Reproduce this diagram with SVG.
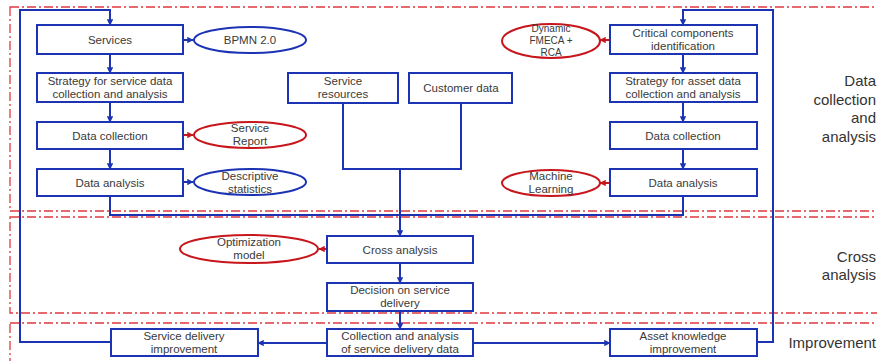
<svg xmlns="http://www.w3.org/2000/svg" width="877" height="361" viewBox="0 0 877 361">
<style>
.reg{fill:none;stroke:#e0393e;stroke-width:1.3;stroke-dasharray:9 3 2 3}
.box{fill:#fff;stroke:#1c34b4;stroke-width:2}
.eb{fill:#fff;stroke:#1c34b4;stroke-width:2}
.er{fill:#fff;stroke:#c8161d;stroke-width:2}
.c{fill:none;stroke:#1c34b4;stroke-width:2}
.cr{fill:none;stroke:#c8161d;stroke-width:2}
text{font-family:"Liberation Sans",Arial,sans-serif;font-size:11.5px;fill:#3a3a3a;text-anchor:middle}
.lab{font-size:15px;text-anchor:end;fill:#333}
.sm{font-size:10px}
</style>
<defs>
<marker id="ab" viewBox="0 0 10 10" refX="9" refY="5" markerWidth="3.2" markerHeight="3.2" orient="auto" markerUnits="strokeWidth"><path d="M0,0L10,5L0,10z" fill="#1c34b4"/></marker>
<marker id="ar" viewBox="0 0 10 10" refX="9" refY="5" markerWidth="3.2" markerHeight="3.2" orient="auto" markerUnits="strokeWidth"><path d="M0,0L10,5L0,10z" fill="#c8161d"/></marker>
</defs>
<rect width="877" height="361" fill="#fff"/>
<g id="regions">
<rect class="reg" x="10" y="7" width="880" height="204"/>
<rect class="reg" x="10" y="217" width="880" height="96"/>
<rect class="reg" x="10" y="323" width="880" height="60"/>
</g>
<g id="labels">
<text class="lab" x="876" y="86">Data</text>
<text class="lab" x="876" y="105">collection</text>
<text class="lab" x="876" y="123">and</text>
<text class="lab" x="876" y="142">analysis</text>
<text class="lab" x="876" y="262">Cross</text>
<text class="lab" x="876" y="280">analysis</text>
<text class="lab" x="876" y="348">Improvement</text>
</g>
<g id="connectors">
<path class="c" d="M111,342H20V10H110V25" marker-end="url(#ab)"/>
<path class="c" d="M110,54V73" marker-end="url(#ab)"/>
<path class="c" d="M110,102V122" marker-end="url(#ab)"/>
<path class="c" d="M110,149V169" marker-end="url(#ab)"/>
<path class="c" d="M183,40H193" marker-end="url(#ab)"/>
<path class="cr" d="M183,135H193" marker-end="url(#ar)"/>
<path class="c" d="M183,182H193" marker-end="url(#ab)"/>
<path class="c" d="M110,196V215H683V196"/>
<path class="c" d="M343,103V169H461V103"/>
<path class="c" d="M400,169V236" marker-end="url(#ab)"/>
<path class="c" d="M757,342H773V10H683V25" marker-end="url(#ab)"/>
<path class="c" d="M683,54V73" marker-end="url(#ab)"/>
<path class="c" d="M683,102V122" marker-end="url(#ab)"/>
<path class="c" d="M683,149V169" marker-end="url(#ab)"/>
<path class="cr" d="M610,40H600" marker-end="url(#ar)"/>
<path class="cr" d="M610,183H600" marker-end="url(#ar)"/>
<path class="cr" d="M327,249H319" marker-end="url(#ar)"/>
<path class="c" d="M400,263V283" marker-end="url(#ab)"/>
<path class="c" d="M400,311V329" marker-end="url(#ab)"/>
<path class="c" d="M327,343H258" marker-end="url(#ab)"/>
<path class="c" d="M473,343H610" marker-end="url(#ab)"/>
</g>
<g id="services"><rect class="box" x="37" y="25" width="146" height="29"/><text x="110" y="44">Services</text></g>
<g id="strategy-service"><rect class="box" x="37" y="73" width="146" height="29"/><text x="110" y="85">Strategy for service data</text><text x="110" y="98">collection and analysis</text></g>
<g id="data-collection-s"><rect class="box" x="37" y="122" width="146" height="27"/><text x="110" y="140">Data collection</text></g>
<g id="data-analysis-s"><rect class="box" x="37" y="169" width="146" height="27"/><text x="110" y="187">Data analysis</text></g>
<g id="bpmn"><ellipse class="eb" cx="250" cy="40" rx="56" ry="13"/><text x="250" y="44">BPMN 2.0</text></g>
<g id="service-report"><ellipse class="er" cx="250" cy="135" rx="56" ry="13"/><text x="250" y="132">Service</text><text x="250" y="145">Report</text></g>
<g id="descriptive"><ellipse class="eb" cx="250" cy="182" rx="56" ry="13"/><text x="250" y="180">Descriptive</text><text x="250" y="193">statistics</text></g>
<g id="service-resources"><rect class="box" x="288" y="73" width="110" height="30"/><text x="343" y="85">Service</text><text x="343" y="98">resources</text></g>
<g id="customer-data"><rect class="box" x="409" y="73" width="103" height="30"/><text x="461" y="92">Customer data</text></g>
<g id="critical"><rect class="box" x="610" y="25" width="147" height="29"/><text x="683" y="37">Critical components</text><text x="683" y="50">identification</text></g>
<g id="strategy-asset"><rect class="box" x="610" y="73" width="147" height="29"/><text x="683" y="85">Strategy for asset data</text><text x="683" y="98">collection and analysis</text></g>
<g id="data-collection-a"><rect class="box" x="610" y="122" width="147" height="27"/><text x="683" y="140">Data collection</text></g>
<g id="data-analysis-a"><rect class="box" x="610" y="169" width="147" height="27"/><text x="683" y="187">Data analysis</text></g>
<g id="fmeca"><ellipse class="er" cx="551" cy="41" rx="49" ry="17"/><text class="sm" x="551" y="32">Dynamic</text><text class="sm" x="551" y="44">FMECA +</text><text class="sm" x="551" y="56">RCA</text></g>
<g id="ml"><ellipse class="er" cx="551" cy="183" rx="49" ry="13"/><text x="551" y="180">Machine</text><text x="551" y="193">Learning</text></g>
<g id="cross-analysis"><rect class="box" x="327" y="236" width="146" height="27"/><text x="400" y="254">Cross analysis</text></g>
<g id="optimization"><ellipse class="er" cx="249" cy="249" rx="69" ry="14"/><text x="249" y="246">Optimization</text><text x="249" y="259">model</text></g>
<g id="decision"><rect class="box" x="327" y="283" width="146" height="28"/><text x="400" y="294">Decision on service</text><text x="400" y="307">delivery</text></g>
<g id="collection-analysis"><rect class="box" x="327" y="329" width="146" height="27"/><text x="400" y="340">Collection and analysis</text><text x="400" y="353">of service delivery data</text></g>
<g id="service-improvement"><rect class="box" x="111" y="329" width="147" height="27"/><text x="184" y="340">Service delivery</text><text x="184" y="353">improvement</text></g>
<g id="asset-improvement"><rect class="box" x="610" y="329" width="147" height="27"/><text x="683" y="340">Asset knowledge</text><text x="683" y="353">improvement</text></g>
</svg>
